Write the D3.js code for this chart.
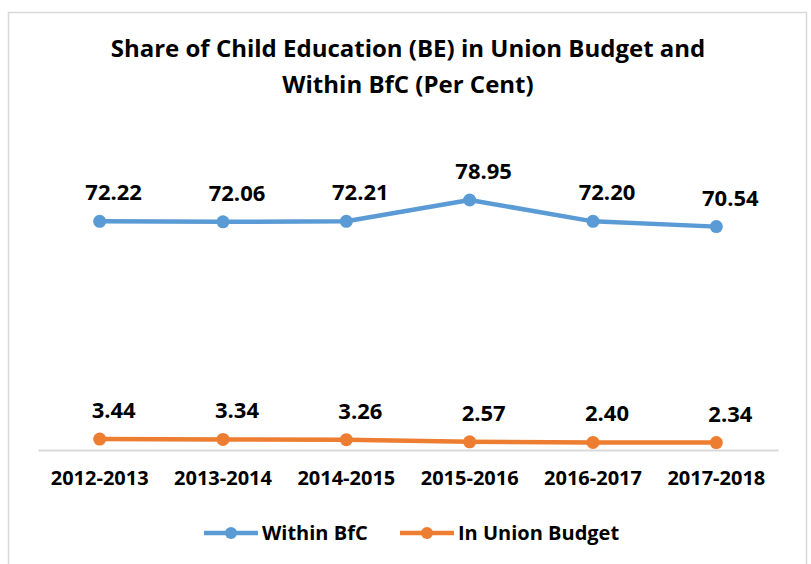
<!DOCTYPE html>
<html>
<head>
<meta charset="utf-8">
<script src="https://cdn.jsdelivr.net/npm/d3@7"></script>
<style>
  body { margin: 0; background: #fff; }
  svg text { font-family: "Open Sans", "Noto Sans", sans-serif; font-weight: bold; fill: #000; }
</style>
</head>
<body>
<div class="chart"></div>
<script>
'use strict';

const years = ['2012-2013', '2013-2014', '2014-2015', '2015-2016', '2016-2017', '2017-2018'];
const withinBfC = [72.22, 72.06, 72.21, 78.95, 72.20, 70.54];
const inUnionBudget = [3.44, 3.34, 3.26, 2.57, 2.40, 2.34];
const seriesNames = ['Within BfC', 'In Union Budget'];
const titleLines = ['Share of Child Education (BE) in Union Budget and', 'Within BfC (Per Cent)'];

const colors = {
  'Blue': '#5b9bd5',
  'Orange': '#ed7d31',
  'Grid': '#d9d9d9'
};

const series = [
  {name: seriesNames[0], values: withinBfC, color: colors['Blue']},
  {name: seriesNames[1], values: inUnionBudget, color: colors['Orange']}
];

function drawChart() {
  const width = 811, height = 564;
  const plot = {left: 38, right: 778, top: 165, bottom: 450};

  const svg = d3.select('.chart').append('svg')
    .attr('width', width)
    .attr('height', height);

  // chart frame
  svg.append('rect')
    .attr('x', 8.5).attr('y', 12.5)
    .attr('width', 798).attr('height', 570)
    .attr('fill', 'none')
    .attr('stroke', colors['Grid'])
    .attr('stroke-width', 1.5);

  svg.append('text')
    .attr('text-anchor', 'middle')
    .style('font-size', '24px')
    .selectAll('tspan')
    .data(titleLines)
    .enter()
    .append('tspan')
    .attr('x', 408)
    .attr('y', (d, i) => 57 + i * 36)
    .text(d => d);

  const x_scale = d3.scaleBand().domain(years).range([plot.left, plot.right]);
  const y_scale = d3.scaleLinear().domain([0, 90]).range([plot.bottom, plot.top]);

  // x axis, only the baseline and labels
  const xAxis = svg.append('g')
    .attr('transform', 'translate(0,' + plot.bottom + ')')
    .call(d3.axisBottom(x_scale).tickSize(0).tickPadding(21));
  xAxis.select('.domain').attr('stroke', colors['Grid']).attr('stroke-width', 2);
  xAxis.selectAll('text')
    .style('font-size', '20px')
    .style('font-family', '"Open Sans", sans-serif')
    .style('font-weight', 'bold')
    .attr('fill', '#000');

  const cx = (d, i) => x_scale(years[i]) + x_scale.bandwidth() / 2;
  const line = d3.line().x(cx).y(d => y_scale(d));

  series.forEach(function(s) {
    const g = svg.append('g');
    g.append('path')
      .datum(s.values)
      .attr('d', line)
      .attr('fill', 'none')
      .attr('stroke', s.color)
      .attr('stroke-width', 4.5)
      .attr('stroke-linejoin', 'round');
    g.selectAll('circle')
      .data(s.values)
      .enter()
      .append('circle')
      .attr('cx', cx)
      .attr('cy', d => y_scale(d))
      .attr('r', 6.5)
      .attr('fill', s.color);
    g.selectAll('.label')
      .data(s.values)
      .enter()
      .append('text')
      .attr('class', 'label')
      .attr('x', (d, i) => cx(d, i) + 14)
      .attr('y', d => y_scale(d) - 21)
      .attr('text-anchor', 'middle')
      .style('font-size', '22px')
      .text(d => d.toFixed(2));
  });

  // legend
  const legendX = [204, 400];
  const legend = svg.selectAll('.legend')
    .data(series)
    .enter()
    .append('g')
    .attr('class', 'legend')
    .attr('transform', (d, i) => 'translate(' + legendX[i] + ',533)');
  legend.append('line')
    .attr('x1', 0).attr('x2', 54)
    .attr('stroke', d => d.color)
    .attr('stroke-width', 4.5);
  legend.append('circle')
    .attr('cx', 27).attr('r', 6)
    .attr('fill', d => d.color);
  legend.append('text')
    .attr('x', 58)
    .attr('dy', '0.35em')
    .style('font-size', '20px')
    .text(d => d.name);
}

drawChart();
</script>
</body>
</html>
